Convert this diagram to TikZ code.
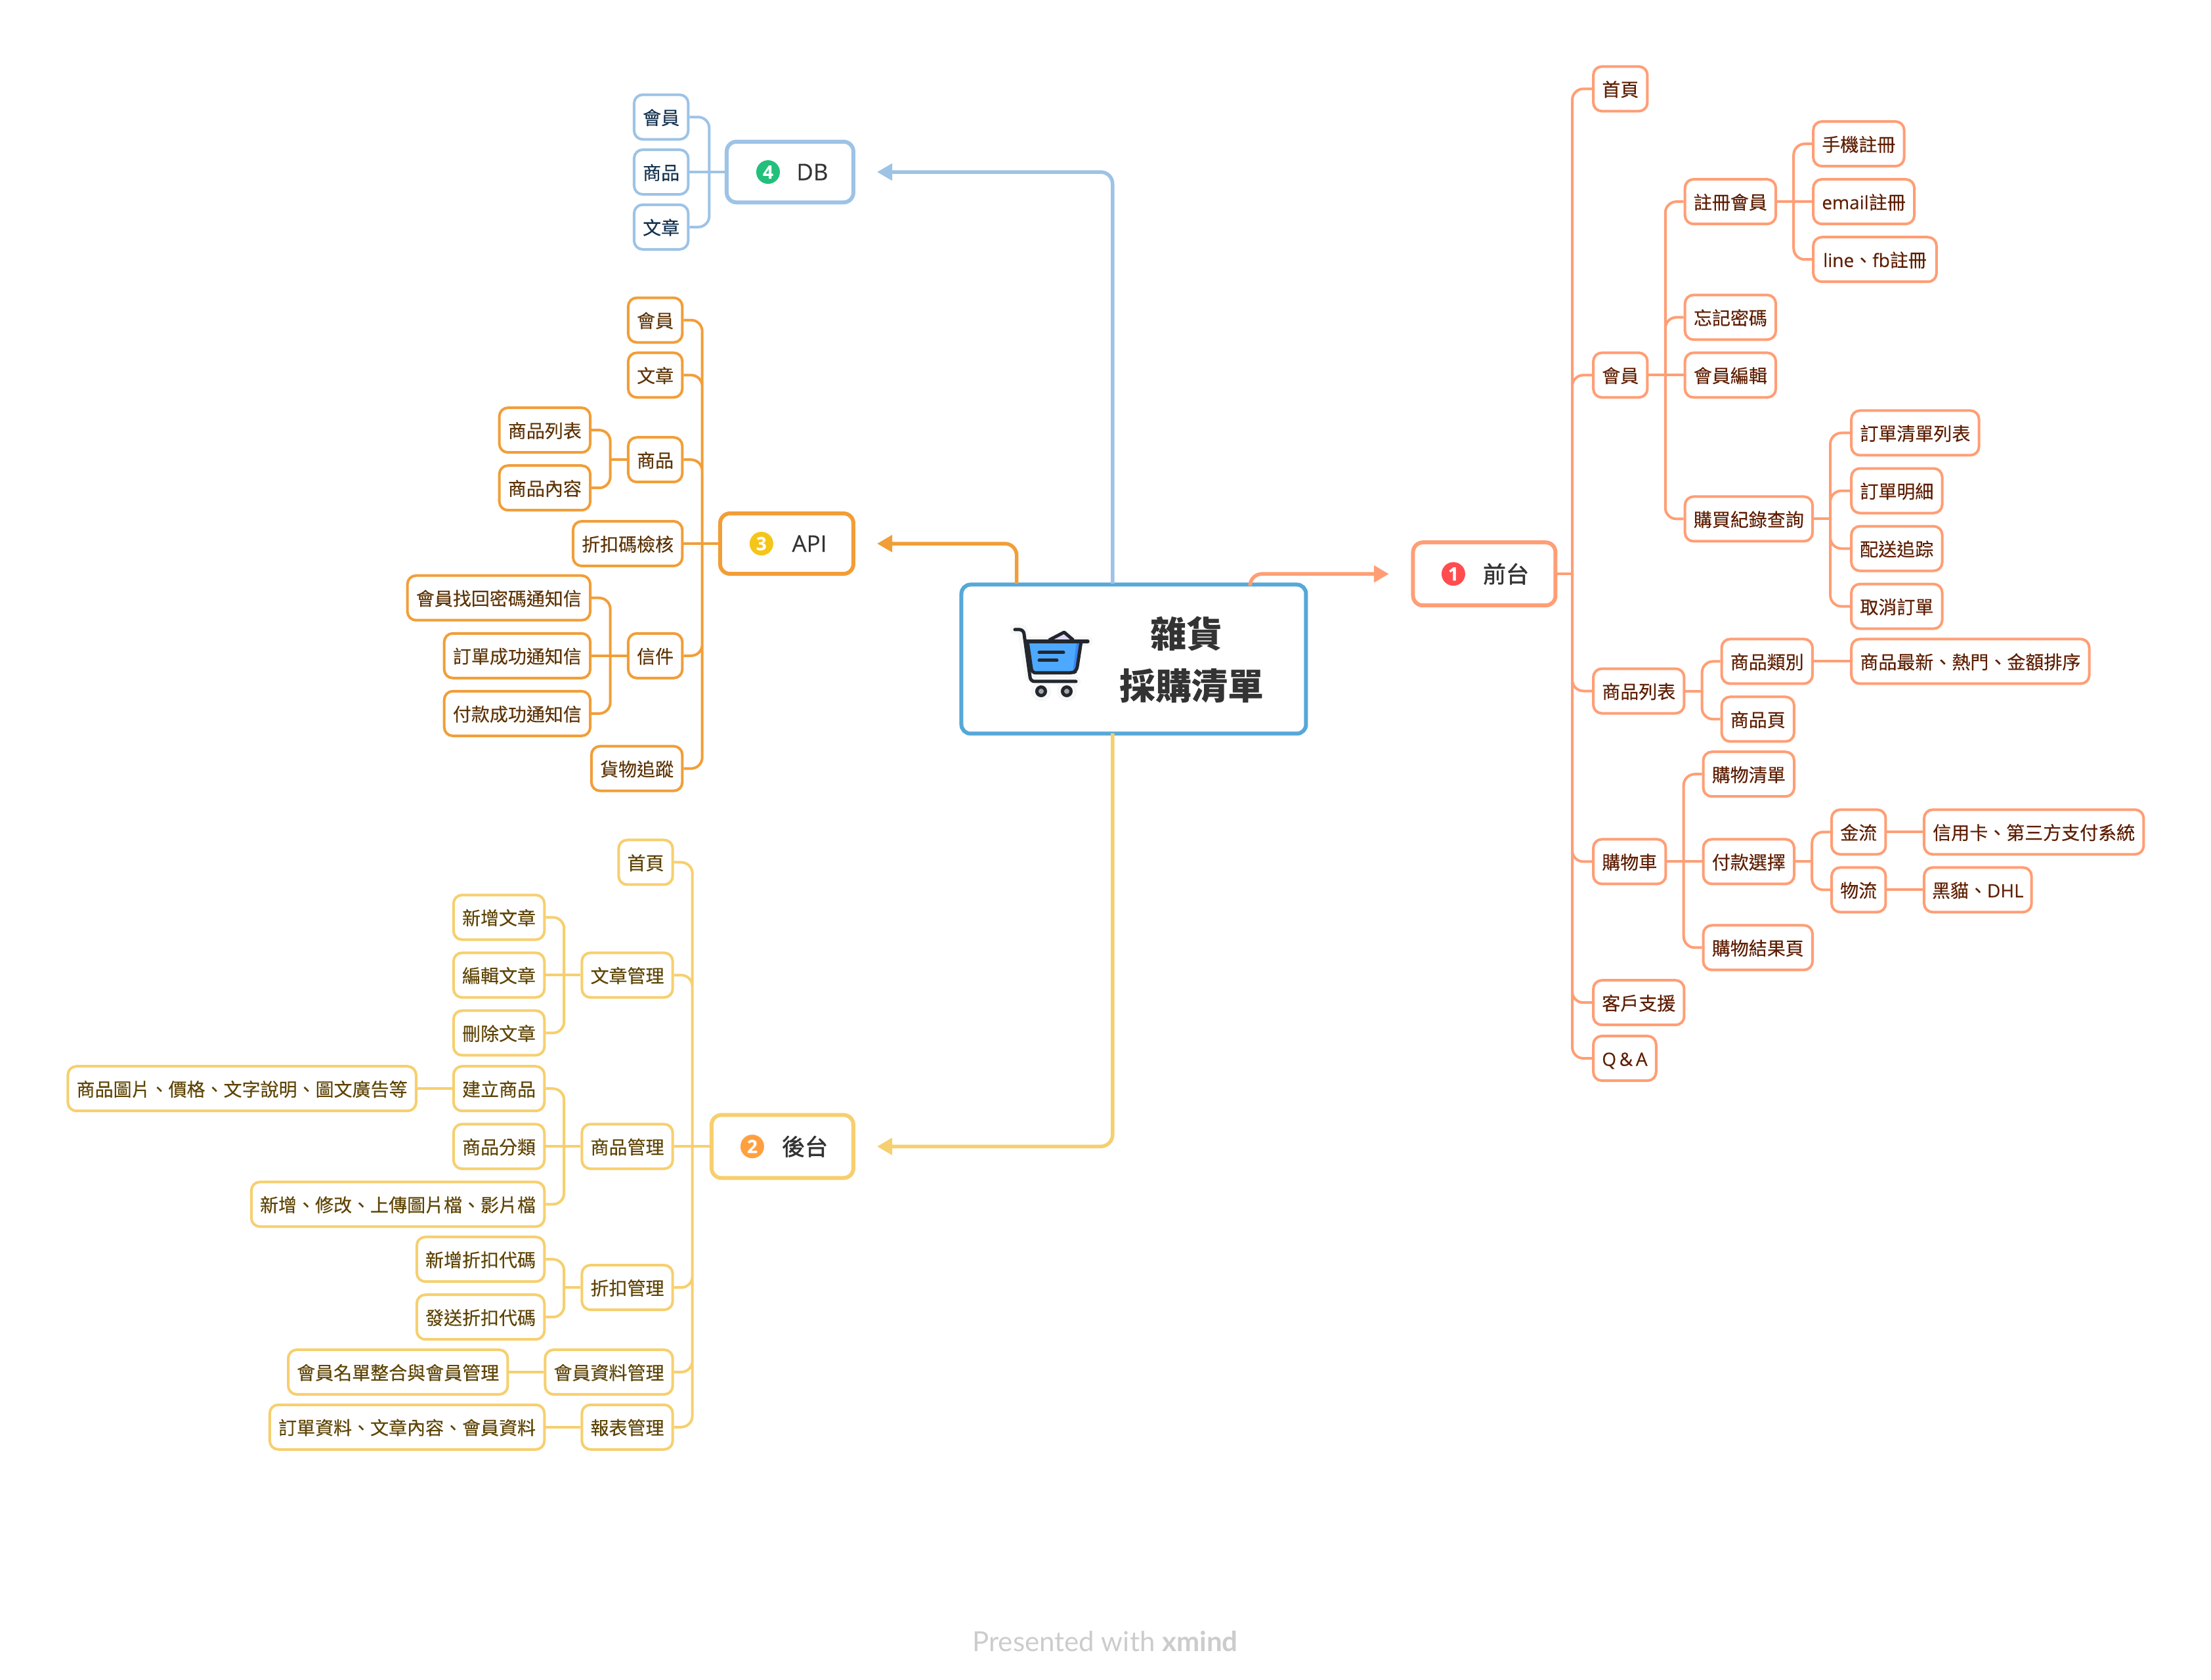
\documentclass[tikz,border=0pt]{standalone}
\usepackage{fontspec}
\setmainfont{Noto Sans CJK TC}
\newfontfamily\leaffont[FakeBold=0.2]{Noto Sans CJK TC}
\newfontfamily\labelfont[FakeBold=1.5]{Noto Sans CJK TC}
\newfontfamily\latinfont[FakeBold=0.2]{Open Sans}
\newfontfamily\wmfont{Lato}
\usetikzlibrary{arrows.meta}

\definecolor{frontline}{HTML}{FF9E75}
\definecolor{fronttext}{HTML}{5E1E02}
\definecolor{dbline}{HTML}{9DC3E6}
\definecolor{dbtext}{HTML}{14324F}
\definecolor{apiline}{HTML}{F19E38}
\definecolor{apitext}{HTML}{5E3406}
\definecolor{backline}{HTML}{F6CF6E}
\definecolor{backtext}{HTML}{5E4404}
\definecolor{rootline}{HTML}{56A8D8}
\definecolor{cartdark}{HTML}{22272E}

\tikzset{
  leaf/.style={draw, fill=white, rounded corners=13pt, line width=4pt, minimum height=68pt,
    inner xsep=13.2pt, inner ysep=0pt, text height=26.5pt, text depth=3.5pt,
    font=\leaffont\fontsize{28}{34}\selectfont},
  frontleaf/.style={leaf, anchor=west, draw=frontline, text=fronttext},
  dbleaf/.style={leaf, anchor=east, draw=dbline, text=dbtext},
  apileaf/.style={leaf, anchor=east, draw=apiline, text=apitext},
  backleaf/.style={leaf, anchor=east, draw=backline, text=backtext},
  topic/.style={draw, fill=white, rounded corners=15pt, line width=6pt},
  topiclabel/.style={inner sep=0pt, text=black!80, font=\labelfont\fontsize{35}{40}\selectfont},
  badge/.style={circle, inner sep=0pt, minimum size=36pt, text=white,
    font=\latinfont\fontsize{28}{28}\selectfont\bfseries},
  link/.style={line width=4pt, rounded corners=17pt},
  frontlink/.style={link, draw=frontline},
  dblink/.style={link, draw=dbline},
  apilink/.style={link, draw=apiline},
  backlink/.style={link, draw=backline},
  rootlink/.style={line width=5.5pt, rounded corners=18pt, -{Triangle[length=23pt,width=25pt]}},
}

\begin{document}
\begin{tikzpicture}[x=2.148pt,y=-2.148pt]
\useasboundingbox (0,0) rectangle (1568,1190.9);

% centre
\node[topic, draw=rootline, rounded corners=14pt, minimum width=525pt, minimum height=227pt] (root) at (804,467.4) {};
\node[inner sep=0pt, align=center, text=black!80, font=\fontsize{55}{79}\selectfont\bfseries] (roottext) at (845.3,468) {雜貨\hspace*{16pt}\\採購清單};
\begin{scope}[x=1pt,y=-1pt]
\draw[line width=15pt, color=black!3, line cap=round, line join=round] (1546,959) -- (1557,959) -- (1570,1033) -- (1639,1038) (1563,977) -- (1657,977);
\fill[color=black!3] (1586,1053) circle (15pt) (1625,1053) circle (15pt);
\draw[line width=5pt, color=cartdark, fill={rgb,255:red,226;green,217;blue,247}, line join=round] (1598,975) -- (1621,963) -- (1635,975);
\fill[color={rgb,255:red,77;green,168;blue,255}] (1565,979) -- (1647,979) -- (1640,1024) -- (1572,1024) -- cycle;
\fill[color={rgb,255:red,58;green,135;blue,240}] (1640,979) -- (1647,979) -- (1640,1024) -- (1634,1024) -- cycle;
\draw[line width=5pt, color=cartdark, line cap=round, rounded corners=6pt] (1565,977) -- (1572,1025) -- (1634,1025) -- (1640,1022) -- (1647,977);
\draw[line width=5pt, color=cartdark, line cap=round, rounded corners=6pt] (1546,959) -- (1559,959) -- (1570,1038) -- (1639,1038);
\draw[line width=5.5pt, color=cartdark, line cap=round] (1563,977) -- (1657,977);
\draw[line width=5pt, color=cartdark, line cap=round] (1583,994) -- (1620,994) (1583,1006) -- (1610,1006);
\draw[line width=5pt, color=cartdark, fill=black!35] (1586,1053) circle (6.5pt) (1625,1053) circle (6.5pt);
\end{scope}

% main topics
\node[topic, draw=frontline, anchor=west, minimum width=217pt, minimum height=96pt] (front) at (1000.7,407) {};
\node[badge, fill={rgb,255:red,255;green,77;blue,79}] (frontmark) at (1030.7,407) {1};
\node[topiclabel] (frontlabel) at (1068,407) {前台};
\node[topic, draw=dbline, anchor=east, minimum width=193pt, minimum height=92.5pt] (db) at (606.6,122) {};
\node[badge, fill={rgb,255:red,34;green,192;blue,122}] (dbmark) at (544.7,122) {4};
\node[topiclabel, font=\latinfont\fontsize{35}{40}\selectfont] (dblabel) at (576.1,122) {DB};
\node[topic, draw=apiline, anchor=east, minimum width=203pt, minimum height=92pt] (api) at (606.6,385.5) {};
\node[badge, fill={rgb,255:red,245;green,197;blue,24}] (apimark) at (540,385.5) {3};
\node[topiclabel, font=\latinfont\fontsize{35}{40}\selectfont] (apilabel) at (574,385.5) {API};
\node[topic, draw=backline, anchor=east, minimum width=216pt, minimum height=96pt] (back) at (606.6,813) {};
\node[badge, fill={rgb,255:red,255;green,160;blue,64}] (backmark) at (533.5,813) {2};
\node[topiclabel] (backlabel) at (570.8,813) {後台};

% arrows out of the centre
\coordinate (rootfront) at (886.5,414);
\coordinate (rootdb) at (789,414);
\coordinate (rootapi) at (721,414);
\coordinate (rootback) at (789,520);
\coordinate (frontend) at (985,407);
\coordinate (dbend) at (622,122);
\coordinate (apiend) at (622,385.5);
\coordinate (backend) at (622,813);
\draw[rootlink, draw=frontline, color=frontline] (rootfront) |- (frontend);
\draw[rootlink, draw=dbline, color=dbline] (rootdb) |- (dbend);
\draw[rootlink, draw=apiline, color=apiline] (rootapi) |- (apiend);
\draw[rootlink, draw=backline, color=backline] (rootback) |- (backend);

% front
\node[frontleaf] (fhome) at (1129,63) {首頁};
\node[frontleaf] (fmember) at (1129,266) {會員};
\node[frontleaf] (fsign) at (1194,143) {註冊會員};
\node[frontleaf] (fphone) at (1285,102) {手機註冊};
\node[frontleaf] (femail) at (1285,143) {{\latinfont email}註冊};
\node[frontleaf, inner xsep=15pt] (fline) at (1285,184) {{\latinfont line}、{\latinfont fb}註冊};
\node[frontleaf] (fforgot) at (1194,225) {忘記密碼};
\node[frontleaf] (fedit) at (1194,266) {會員編輯};
\node[frontleaf] (fhistory) at (1194,368) {購買紀錄查詢};
\node[frontleaf] (flist) at (1312,307) {訂單清單列表};
\node[frontleaf] (fdetail) at (1312,348) {訂單明細};
\node[frontleaf] (ftrack) at (1312,389) {配送追踪};
\node[frontleaf] (fcancel) at (1312,430) {取消訂單};
\node[frontleaf] (fgoods) at (1129,490) {商品列表};
\node[frontleaf] (fkind) at (1220,469) {商品類別};
\node[frontleaf] (fsort) at (1312,469) {商品最新、熱門、金額排序};
\node[frontleaf] (fpage) at (1220,510) {商品頁};
\node[frontleaf] (fcart) at (1129,611) {購物車};
\node[frontleaf] (fcartlist) at (1207,549) {購物清單};
\node[frontleaf] (fpay) at (1207,611) {付款選擇};
\node[frontleaf] (fmoney) at (1298,590) {金流};
\node[frontleaf] (fcard) at (1363.6,590) {信用卡、第三方支付系統};
\node[frontleaf] (fship) at (1298,631) {物流};
\node[frontleaf, inner xsep=12pt] (fcarrier) at (1363.6,631) {黑貓、{\latinfont DHL}};
\node[frontleaf] (fresult) at (1207,672) {購物結果頁};
\node[frontleaf] (fhelp) at (1129,711) {客戶支援};
\node[frontleaf] (ffaq) at (1129,750.5) {{\latinfont Q\,\&\,A}};

\coordinate (tfront) at (1115,407);
\coordinate (tmember) at (1181,266);
\coordinate (tsign) at (1272,143);
\coordinate (thistory) at (1298,368);
\coordinate (tgoods) at (1207,490);
\coordinate (tcart) at (1194,611);
\coordinate (tpay) at (1285,611);
\draw[frontlink] (front.east) -- (tfront);
\draw[frontlink] (tfront) |- (fhome.west) (tfront) |- (fmember.west) (tfront) |- (fgoods.west)
  (tfront) |- (fcart.west) (tfront) |- (fhelp.west) (tfront) |- (ffaq.west);
\draw[frontlink] (fmember.east) -- (tmember) -- (fedit.west);
\draw[frontlink] (tmember) |- (fsign.west) (tmember) |- (fforgot.west) (tmember) |- (fhistory.west);
\draw[frontlink] (fsign.east) -- (tsign) -- (femail.west);
\draw[frontlink] (tsign) |- (fphone.west) (tsign) |- (fline.west);
\draw[frontlink] (fhistory.east) -- (thistory);
\draw[frontlink] (thistory) |- (flist.west) (thistory) |- (fdetail.west) (thistory) |- (ftrack.west) (thistory) |- (fcancel.west);
\draw[frontlink] (fgoods.east) -- (tgoods);
\draw[frontlink] (tgoods) |- (fkind.west) (tgoods) |- (fpage.west);
\draw[frontlink] (fkind.east) -- (fsort.west);
\draw[frontlink] (fcart.east) -- (tcart) -- (fpay.west);
\draw[frontlink] (tcart) |- (fcartlist.west) (tcart) |- (fresult.west);
\draw[frontlink] (fpay.east) -- (tpay);
\draw[frontlink] (tpay) |- (fmoney.west) (tpay) |- (fship.west);
\draw[frontlink] (fmoney.east) -- (fcard.west);
\draw[frontlink] (fship.east) -- (fcarrier.west);

% db
\node[dbleaf] (dmember) at (489,83) {會員};
\node[dbleaf] (dgoods) at (489,122) {商品};
\node[dbleaf] (dpost) at (489,161) {文章};
\coordinate (tdb) at (503,122);
\draw[dblink] (db.west) -- (tdb) -- (dgoods.east);
\draw[dblink] (tdb) |- (dmember.east) (tdb) |- (dpost.east);

% api
\node[apileaf] (amember) at (484.8,227) {會員};
\node[apileaf] (apost) at (484.8,266) {文章};
\node[apileaf] (agoods) at (484.8,326) {商品};
\node[apileaf] (alist) at (419.5,305) {商品列表};
\node[apileaf] (acontent) at (419.5,346) {商品內容};
\node[apileaf] (acode) at (484.8,385.5) {折扣碼檢核};
\node[apileaf] (amail) at (484.8,465) {信件};
\node[apileaf] (apass) at (419.5,424) {會員找回密碼通知信};
\node[apileaf] (aorder) at (419.5,465) {訂單成功通知信};
\node[apileaf] (apaid) at (419.5,506) {付款成功通知信};
\node[apileaf] (atrack) at (484.8,545) {貨物追蹤};
\coordinate (tapi) at (498,385.5);
\coordinate (tagoods) at (432.8,326);
\coordinate (tamail) at (432.8,465);
\draw[apilink] (api.west) -- (tapi) -- (acode.east);
\draw[apilink] (tapi) |- (amember.east) (tapi) |- (apost.east) (tapi) |- (agoods.east) (tapi) |- (amail.east) (tapi) |- (atrack.east);
\draw[apilink] (agoods.west) -- (tagoods);
\draw[apilink] (tagoods) |- (alist.east) (tagoods) |- (acontent.east);
\draw[apilink] (amail.west) -- (tamail) -- (aorder.east);
\draw[apilink] (tamail) |- (apass.east) (tamail) |- (apaid.east);

% back
\node[backleaf] (bhome) at (478,611.5) {首頁};
\node[backleaf] (bpost) at (478,691.5) {文章管理};
\node[backleaf] (bnew) at (387,650.5) {新增文章};
\node[backleaf] (bedit) at (387,691.5) {編輯文章};
\node[backleaf] (bdel) at (387,732.5) {刪除文章};
\node[backleaf] (bgoods) at (478,813) {商品管理};
\node[backleaf] (bbuild) at (387,772) {建立商品};
\node[backleaf] (bdetail) at (296,772) {商品圖片、價格、文字說明、圖文廣告等};
\node[backleaf] (bkind) at (387,813) {商品分類};
\node[backleaf] (bfile) at (387,854) {新增、修改、上傳圖片檔、影片檔};
\node[backleaf] (bcode) at (478,913) {折扣管理};
\node[backleaf] (bcodenew) at (387,893) {新增折扣代碼};
\node[backleaf] (bcodesend) at (387,934) {發送折扣代碼};
\node[backleaf] (bmember) at (478,973) {會員資料管理};
\node[backleaf] (bmerge) at (361,973) {會員名單整合與會員管理};
\node[backleaf] (breport) at (478,1012) {報表管理};
\node[backleaf] (bdata) at (387,1012) {訂單資料、文章內容、會員資料};
\coordinate (tback) at (491,813);
\coordinate (tbpost) at (400,691.5);
\coordinate (tbgoods) at (400,813);
\coordinate (tbcode) at (400,913);
\draw[backlink] (back.west) -- (tback) -- (bgoods.east);
\draw[backlink] (tback) |- (bhome.east) (tback) |- (bpost.east) (tback) |- (bcode.east) (tback) |- (bmember.east) (tback) |- (breport.east);
\draw[backlink] (bpost.west) -- (tbpost) -- (bedit.east);
\draw[backlink] (tbpost) |- (bnew.east) (tbpost) |- (bdel.east);
\draw[backlink] (bgoods.west) -- (tbgoods) -- (bkind.east);
\draw[backlink] (tbgoods) |- (bbuild.east) (tbgoods) |- (bfile.east);
\draw[backlink] (bbuild.west) -- (bdetail.east);
\draw[backlink] (bcode.west) -- (tbcode);
\draw[backlink] (tbcode) |- (bcodenew.east) (tbcode) |- (bcodesend.east);
\draw[backlink] (bmember.west) -- (bmerge.east);
\draw[backlink] (breport.west) -- (bdata.east);

\node[anchor=base, inner sep=0pt, text=black!20, font=\wmfont\fontsize{42}{48}\selectfont] (mark) at (783.8,1171) {Presented with \textbf{xmind}};
\end{tikzpicture}
\end{document}
